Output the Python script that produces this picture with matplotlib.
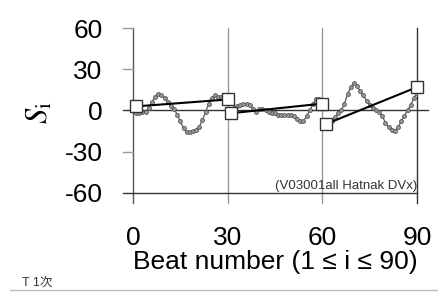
import matplotlib
matplotlib.use("Agg")
import matplotlib.pyplot as plt

plt.rcParams['font.family'] = ['Liberation Sans', 'Noto Sans CJK JP']
plt.rcParams['mathtext.fontset'] = 'stix'
plt.rcParams['axes.unicode_minus'] = False

# beat-by-beat S_i, three blocks of 30 beats
beats1 = list(range(1, 30))
vals1 = [-2, -2, -1, -1, 2, 6, 10, 12, 11, 9, 6, 3, 1, -3, -8, -13, -16, -16,
         -15, -14, -12, -7, -1, 5, 9, 11, 10, 10, 9]
beats2 = list(range(32, 60))
vals2 = [2, 3, 4, 5, 5, 4, 1, -1, 1, 1, 0, -1, -2, -2, -3, -3, -3, -3, -3,
         -4, -6, -8, -8, -4, 0, 5, 8, 8]
beats3 = list(range(62, 91))
vals3 = [-9, -8, -5, -2, 0, 5, 12, 17, 20, 18, 14, 11, 7, 4, 2, 0, -1, -4,
         -9, -12, -14, -15, -12, -8, -4, 0, 4, 9, 13]

# block end points (squares) joined by black lines
blocks = [((1, 30), (3, 8)), ((31, 60), (-2, 5)), ((61, 90), (-10, 17))]

xticks = [0, 30, 60, 90]
yticks = [-60, -30, 0, 30, 60]

fig = plt.figure(figsize=(4.38, 2.96), dpi=100)
ax = fig.add_axes([0.3037, 0.3480, 0.6484, 0.5574])
ax.set_xlim(0, 90)
ax.set_ylim(-60, 60)
for s in ax.spines.values():
    s.set_visible(False)

# frame / grid lines
ax.plot([0, 0], [-67.3, 60], color='#555555', lw=1, clip_on=False)
ax.plot([30, 30], [-67.3, 60], color='#999999', lw=1, clip_on=False)
ax.plot([60, 60], [-67.3, 60], color='#999999', lw=1, clip_on=False)
ax.plot([90, 90], [-67.3, 60], color='#333333', lw=1, clip_on=False)
ax.plot([-3.2, 93.5], [0, 0], color='#333333', lw=1, clip_on=False)
ax.plot([-3.2, 90], [-60, -60], color='#333333', lw=1, clip_on=False)
for yv in [60, 30, -30]:
    ax.plot([-3.2, 0], [yv, yv], color='#999999', lw=1, clip_on=False)

for bx, by in [(beats1, vals1), (beats2, vals2), (beats3, vals3)]:
    ax.plot(bx, by, color='#666666', lw=1, marker='o', ms=2.8,
            mfc='#999999', mec='#555555', mew=0.6, zorder=3)

for bx, by in blocks:
    ax.plot(bx, by, color='black', lw=1.5, zorder=4)
    ax.plot(bx, by, ls='none', marker='s', ms=8, mfc='white',
            mec='#333333', mew=1, zorder=5, clip_on=False)

ax.set_xticks(xticks)
ax.set_yticks(yticks)
ax.tick_params(axis='both', length=0, labelsize=19)
ax.tick_params(axis='y', pad=22)
ax.tick_params(axis='x', pad=24)
ax.set_xlabel('Beat number (1 ≤ i ≤ 90)', fontsize=19, labelpad=0)
fig.text(0.092, 0.62, '$S_\\mathrm{i}$', rotation=90, fontsize=22,
         ha='center', va='center')

ax.text(90, -59, '(V03001all Hatnak DVx)', fontsize=9.5, ha='right',
        va='bottom', color='#333333')

fig.text(0.05, 0.033, 'T 1次', fontsize=9, color='#333333')
fig.add_artist(plt.Line2D([0.023, 1.0], [0.02, 0.02], color='#bbbbbb', lw=1))

fig.savefig('out.png', dpi=100)
